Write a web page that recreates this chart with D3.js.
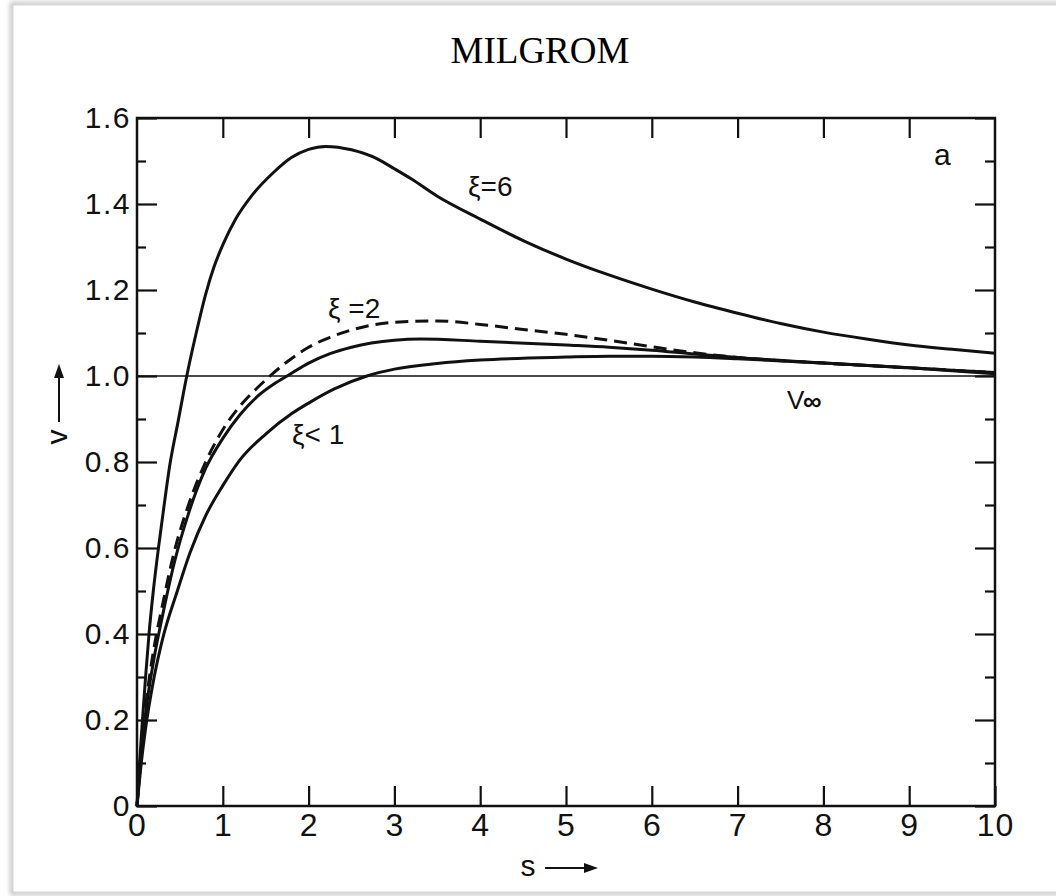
<!DOCTYPE html>
<html>
<head>
<meta charset="utf-8">
<script src="https://cdn.jsdelivr.net/npm/d3@7"></script>
<style>
  body { margin: 0; background: #fff; }
  svg { display: block; }
  .tick text { font-family: "Liberation Sans", Arial, sans-serif; }
</style>
</head>
<body>
<div id="chart"></div>
<script>
// values
var xi6S = [0, 0.03, 0.06, 0.1, 0.14, 0.19, 0.25, 0.31, 0.38, 0.48, 0.58, 0.69, 0.8, 0.9, 1.0, 1.15, 1.34, 1.6, 1.8, 2.0, 2.2, 2.5, 2.8, 3.0, 3.2, 3.5, 4, 4.5, 5, 5.5, 6, 6.5, 7, 7.5, 8, 8.5, 9, 9.5, 10];
var xi6V = [0, 0.1, 0.19, 0.3, 0.4, 0.5, 0.6, 0.69, 0.79, 0.895, 1.0, 1.1, 1.19, 1.255, 1.305, 1.365, 1.42, 1.475, 1.508, 1.527, 1.534, 1.526, 1.505, 1.482, 1.458, 1.418, 1.365, 1.315, 1.272, 1.235, 1.202, 1.172, 1.146, 1.122, 1.102, 1.086, 1.072, 1.062, 1.053];

var xi2S = [0, 0.05, 0.1, 0.2, 0.3, 0.42, 0.6, 0.8, 1.0, 1.2, 1.4, 1.55, 1.75, 2.0, 2.25, 2.5, 3.0, 3.5, 4.0, 4.5, 5, 5.5, 6, 6.5, 7, 8, 9, 10];
var xi2V = [0, 0.13, 0.23, 0.37, 0.47, 0.58, 0.7, 0.8, 0.875, 0.93, 0.972, 1.0, 1.033, 1.067, 1.09, 1.107, 1.125, 1.128, 1.12, 1.108, 1.097, 1.083, 1.068, 1.054, 1.043, 1.03, 1.019, 1.008];

var midS = [0, 0.05, 0.1, 0.2, 0.3, 0.44, 0.6, 0.8, 1.0, 1.2, 1.4, 1.6, 1.75, 2.0, 2.25, 2.5, 3.0, 3.3, 4.0, 5, 5.5, 6, 6.5, 7, 8, 9, 10];
var midV = [0, 0.12, 0.215, 0.345, 0.445, 0.57, 0.68, 0.785, 0.855, 0.91, 0.952, 0.982, 1.0, 1.03, 1.052, 1.067, 1.083, 1.086, 1.081, 1.072, 1.067, 1.06, 1.051, 1.043, 1.03, 1.019, 1.008];

var xi1S = [0, 0.05, 0.1, 0.2, 0.3, 0.47, 0.62, 0.8, 1.0, 1.2, 1.5, 1.8, 2.0, 2.3, 2.68, 3.0, 3.5, 4, 5, 5.5, 6, 6.5, 7, 8, 9, 10];
var xi1V = [0, 0.1, 0.18, 0.3, 0.39, 0.5, 0.59, 0.675, 0.745, 0.805, 0.865, 0.912, 0.937, 0.97, 1.0, 1.016, 1.029, 1.037, 1.044, 1.046, 1.046, 1.044, 1.04, 1.03, 1.019, 1.005];

var xTicks = [0, 1, 2, 3, 4, 5, 6, 7, 8, 9, 10];
var yMajor = [0, 0.2, 0.4, 0.6, 0.8, 1.0, 1.2, 1.4, 1.6];
var yMinor = [0.1, 0.3, 0.5, 0.7, 0.9, 1.1, 1.3, 1.5];
var yLabels = ["0", "0.2", "0.4", "0.6", "0.8", "1.0", "1.2", "1.4", "1.6"];
var vInf = 1.0;

var width = 1056, height = 896;
var margin = {top: 118, right: 61, bottom: 90, left: 137};
var pw = width - margin.left - margin.right,
    ph = height - margin.top - margin.bottom;

var svg = d3.select("#chart").append("svg")
    .attr("width", width)
    .attr("height", height);

// photo frame
var defs = svg.append("defs");
var f = defs.append("filter").attr("id", "shadow").attr("x", "-5%").attr("y", "-5%").attr("width", "110%").attr("height", "110%");
f.append("feGaussianBlur").attr("stdDeviation", 2.5);
svg.append("rect")
    .attr("x", 12).attr("y", 4).attr("width", 1060).attr("height", 889)
    .attr("fill", "none").attr("stroke", "#aaa").attr("stroke-width", 3)
    .attr("filter", "url(#shadow)");
svg.append("rect")
    .attr("x", 13).attr("y", 5).attr("width", 1060).attr("height", 887)
    .attr("fill", "#fff").attr("stroke", "#d4d4d4").attr("stroke-width", 1);

svg.append("text")
    .attr("x", 540).attr("y", 63)
    .attr("text-anchor", "middle")
    .attr("font-family", "Liberation Serif, Times New Roman, serif")
    .attr("font-size", 37)
    .text("MILGROM");

var g = svg.append("g").attr("transform", "translate(" + margin.left + "," + margin.top + ")");

var x = d3.scaleLinear().domain([0, 10]).range([0, pw]);
var y = d3.scaleLinear().domain([0, 1.6]).range([ph, 0]);

function styleAxis(sel) {
    sel.select(".domain").remove();
    sel.selectAll(".tick line").attr("stroke", "#111").attr("stroke-width", 2.2);
    sel.selectAll(".tick text").attr("fill", "#111");
}

// left axis, major + minor, ticks inward
g.append("g")
    .call(d3.axisLeft(y).tickValues(yMajor).tickSize(-20).tickPadding(6)
        .tickFormat(function(d, i) { return yLabels[i]; }))
    .call(styleAxis)
    .selectAll(".tick text").attr("font-size", 30).attr("letter-spacing", 1.5);
g.append("g")
    .call(d3.axisLeft(y).tickValues(yMinor).tickSize(-9).tickFormat(""))
    .call(styleAxis);

// right axis
g.append("g").attr("transform", "translate(" + pw + ",0)")
    .call(d3.axisRight(y).tickValues(yMajor).tickSize(-20).tickFormat(""))
    .call(styleAxis);
g.append("g").attr("transform", "translate(" + pw + ",0)")
    .call(d3.axisRight(y).tickValues(yMinor).tickSize(-10).tickFormat(""))
    .call(styleAxis);

// bottom axis
g.append("g").attr("transform", "translate(0," + ph + ")")
    .call(d3.axisBottom(x).tickValues(xTicks).tickSize(-20).tickPadding(7).tickFormat(d3.format("d")))
    .call(styleAxis)
    .selectAll(".tick text").attr("font-size", 32).attr("letter-spacing", 1);

// top axis
g.append("g")
    .call(d3.axisTop(x).tickValues(xTicks.slice(1, -1)).tickSize(-20).tickFormat(""))
    .call(styleAxis);

// frame
g.append("rect")
    .attr("width", pw).attr("height", ph)
    .attr("fill", "none").attr("stroke", "#111").attr("stroke-width", 2.5);

// V infinity line
g.append("line")
    .attr("x1", x(0)).attr("x2", x(10))
    .attr("y1", y(vInf)).attr("y2", y(vInf))
    .attr("stroke", "#111").attr("stroke-width", 1.6);

var line = d3.line()
    .x(function(d) { return x(d[0]); })
    .y(function(d) { return y(d[1]); })
    .curve(d3.curveMonotoneX);

function zipS(s, v) { return s.map(function(d, i) { return [d, v[i]]; }); }

var curves = [
    {data: zipS(xi6S, xi6V), dash: null},
    {data: zipS(midS, midV), dash: null},
    {data: zipS(xi1S, xi1V), dash: null},
    {data: zipS(xi2S, xi2V), dash: "13,7"}
];

g.selectAll(".curve")
    .data(curves)
    .enter().append("path")
    .attr("class", "curve")
    .attr("d", function(d) { return line(d.data); })
    .attr("fill", "none")
    .attr("stroke", "#111")
    .attr("stroke-width", 3)
    .attr("stroke-linejoin", "round")
    .attr("stroke-dasharray", function(d) { return d.dash; });

// curve labels
var lab = svg.append("g")
    .attr("font-family", "Liberation Sans, Arial, sans-serif")
    .attr("fill", "#111");

lab.append("text").attr("x", 468).attr("y", 196).attr("font-size", 28).text("ξ=6");
lab.append("text").attr("x", 328).attr("y", 318).attr("font-size", 28).text("ξ  =2");
lab.append("text").attr("x", 292).attr("y", 444).attr("font-size", 28).text("ξ< 1");
lab.append("text").attr("x", 787).attr("y", 409).attr("font-size", 26).text("V");
lab.append("text").attr("x", 803).attr("y", 410).attr("font-size", 26).attr("font-weight", "bold").text("∞");
lab.append("text").attr("x", 934).attr("y", 165).attr("font-size", 30).text("a");

// axis titles with arrows
lab.append("text")
    .attr("transform", "translate(67,437) rotate(-90)")
    .attr("text-anchor", "middle")
    .attr("font-size", 30)
    .text("v");
lab.append("line")
    .attr("x1", 59).attr("x2", 59).attr("y1", 422).attr("y2", 375)
    .attr("stroke", "#111").attr("stroke-width", 2);
lab.append("path")
    .attr("d", "M59,364 L54,378 L64,378 Z")
    .attr("fill", "#111");

lab.append("text")
    .attr("x", 528).attr("y", 876)
    .attr("text-anchor", "middle")
    .attr("font-size", 30)
    .text("s");
lab.append("line")
    .attr("x1", 545).attr("x2", 588).attr("y1", 868).attr("y2", 868)
    .attr("stroke", "#111").attr("stroke-width", 2);
lab.append("path")
    .attr("d", "M598,868 L584,863 L584,873 Z")
    .attr("fill", "#111");
</script>
</body>
</html>
